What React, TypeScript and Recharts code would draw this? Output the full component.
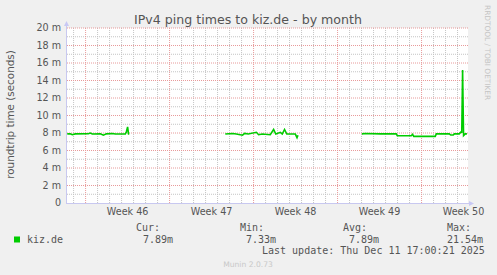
import { CartesianGrid, Line, LineChart, XAxis, YAxis } from "recharts"

// x = days since Mon 10 Nov 2025 00:00 (start of week 46), y = ping in ms
const days = [
  -1.53, -1.28, -1.11, -0.86, 0.23, 0.39, 0.56, 1.23, 1.48, 1.73, 2.23, 2.48, 3.31, 3.39, 3.5, 3.58, 3.64, 4.0,
  11.64, 12.25, 12.56, 13.08, 13.25, 13.56, 14.23, 14.42, 14.73, 15.39, 15.67, 15.85, 16.23, 16.39, 16.58, 16.77,
  17.48, 17.62, 17.7, 18.2,
  23.03, 23.31, 24.56, 25.89, 25.98, 27.14, 27.25, 27.35, 29.14, 29.23, 30.31, 30.43, 30.64, 30.73, 31.14, 31.27,
  31.35, 31.42, 31.5, 31.64, 31.78,
]
const ping: (number | null)[] = [
  7.9, 7.92, 7.8, 7.9, 7.92, 8.0, 7.88, 7.9, 7.75, 7.9, 7.95, 7.88, 7.9, 8.1, 8.7, 7.9, 7.9, null,
  7.88, 7.95, 7.88, 7.75, 7.95, 7.88, 8.08, 7.8, 7.88, 7.8, 8.4, 7.88, 8.08, 7.88, 8.4, 7.88,
  7.88, 7.47, 7.75, null,
  7.9, 7.95, 7.9, 7.9, 7.68, 7.68, 7.85, 7.62, 7.62, 7.9, 7.9, 7.77, 7.77, 7.9, 7.9, 8.1,
  8.1, 15.2, 7.7, 7.9, 7.9,
]

const weekTicks = [3.5, 10.5, 17.5, 24.5, 31.5]
const weekLabels = ["Week 46", "Week 47", "Week 48", "Week 49", "Week 50"]
const weekLines = [0, 7, 14, 21, 28]
const dayLines = [-1, 1, 2, 3, 4, 5, 6, 8, 9, 10, 11, 12, 13, 15, 16, 17, 18, 19, 20, 22, 23, 24, 25, 26, 27, 29, 30, 31]
const yTicks = [0, 2, 4, 6, 8, 10, 12, 14, 16, 18, 20]
const yMinor = [1, 3, 5, 7, 9, 11, 13, 15, 17, 19]

const legendHeads = ["Cur:", "Min:", "Avg:", "Max:"]
const legendValues = ["7.89m", "7.33m", "7.89m", "21.54m"]

const data = days.map((d, i) => ({ day: d, ms: ping[i] }))

const sans = "DejaVu Sans"
const mono = "DejaVu Sans Mono"

export default function App() {
  const headX = [136, 240, 343, 447]
  const valX = [143, 246, 349, 447]
  return (
    <div style={{ position: "absolute", left: 0, top: 0, width: 497, height: 275, background: "#f0f0f0", overflow: "hidden" }}>
      <LineChart width={497} height={275} data={data} margin={{ top: 28, right: 29, bottom: 52, left: 0 }}>
        <CartesianGrid
          fill="#ffffff"
          stroke="#c4c4c4"
          strokeDasharray="1 1"
          horizontalValues={yMinor}
          verticalValues={dayLines}
        />
        <CartesianGrid
          stroke="#e89a9a"
          strokeDasharray="1 1"
          horizontalValues={yTicks.filter((v) => v > 0)}
          verticalValues={weekLines}
        />
        <XAxis
          dataKey="day"
          type="number"
          domain={[-1.55, 31.87]}
          allowDataOverflow
          ticks={weekTicks}
          interval={0}
          tickFormatter={(v: number) => weekLabels[weekTicks.indexOf(v)] ?? ""}
          tickLine={false}
          axisLine={false}
          tickSize={3}
          tickMargin={2.5}
          height={20}
          tick={{ fill: "#555", fontSize: 9.6, fontFamily: sans }}
        />
        <YAxis
          type="number"
          domain={[0, 20]}
          ticks={yTicks}
          interval={0}
          tickFormatter={(v: number) => (v === 0 ? "0" : `${v} m`)}
          tickLine={false}
          axisLine={false}
          tickSize={4}
          tickMargin={2}
          width={67}
          tick={{ fill: "#555", fontSize: 9.6, fontFamily: sans }}
        />
        <Line
          type="linear"
          dataKey="ms"
          stroke="#00cc00"
          strokeWidth={1.6}
          dot={false}
          activeDot={false}
          isAnimationActive={false}
        />
      </LineChart>
      <svg width={497} height={275} style={{ position: "absolute", left: 0, top: 0, pointerEvents: "none" }}>
        <line x1={66.5} y1={203.5} x2={66.5} y2={26} stroke="#c8c8f0" strokeWidth={1} />
        <line x1={66} y1={203.5} x2={470} y2={203.5} stroke="#c8c8f0" strokeWidth={1} />
        <polygon points="64,26 69,26 66.5,21" fill="#c8c8f4" />
        <polygon points="469,201 469,206 474,203.5" fill="#c8c8f4" />
        <text x={248} y={24} textAnchor="middle" fontFamily={sans} fontSize={12.6} fill="#555">
          IPv4 ping times to kiz.de - by month
        </text>
        <text
          x={14}
          y={114.5}
          textAnchor="middle"
          fontFamily={sans}
          fontSize={10.4}
          fill="#555"
          transform="rotate(-90 14 114.5)"
        >
          roundtrip time (seconds)
        </text>
        <text
          x={485}
          y={5}
          fontFamily={sans}
          fontSize={7.4}
          fill="#c4c4c4"
          transform="rotate(90 485 5)"
        >
          RRDTOOL / TOBI OETIKER
        </text>
        <rect x={14} y={236.5} width={6} height={6} fill="#00cc00" />
        <text x={27} y={243} fontFamily={mono} fontSize={10} fill="#555">kiz.de</text>
        {legendHeads.map((h, i) => (
          <text key={h} x={headX[i]} y={231.3} fontFamily={mono} fontSize={10} fill="#555">{h}</text>
        ))}
        {legendValues.map((v, i) => (
          <text key={i} x={valX[i]} y={243} fontFamily={mono} fontSize={10} fill="#555">{v}</text>
        ))}
        <text x={262} y={254.4} fontFamily={mono} fontSize={10} fill="#555">
          Last update: Thu Dec 11 17:00:21 2025
        </text>
        <text x={248} y={267} textAnchor="middle" fontFamily={sans} fontSize={7.6} fill="#c8c8c8">
          Munin 2.0.73
        </text>
      </svg>
    </div>
  )
}
